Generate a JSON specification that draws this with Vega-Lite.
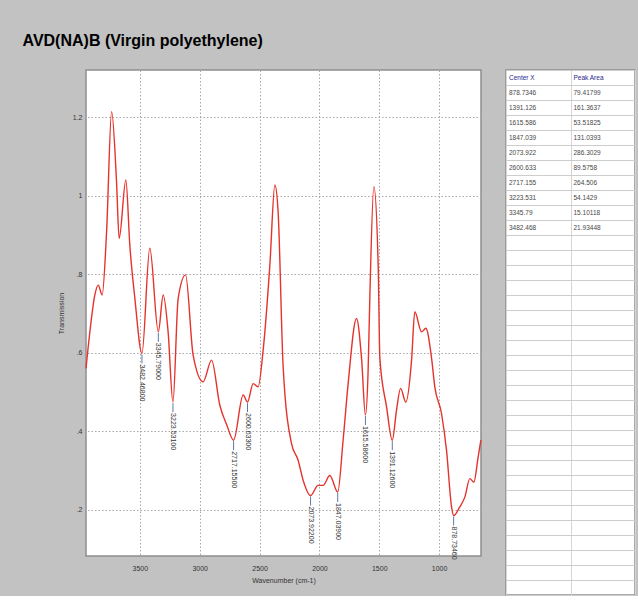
{
  "$schema": "https://vega.github.io/schema/vega-lite/v6.json",
  "background": "#c2c2c2",
  "padding": {"left": 22, "top": 33, "right": 2, "bottom": 0},
  "title": {
    "text": "AVD(NA)B (Virgin polyethylene)",
    "anchor": "start",
    "dx": -34,
    "offset": 20,
    "font": "Liberation Sans",
    "fontSize": 16,
    "fontWeight": "bold",
    "color": "#000000"
  },
  "config": {
    "font": "Liberation Sans",
    "view": {"stroke": "#8e8e8e", "strokeWidth": 1.5}
  },
  "spacing": 20,
  "datasets": {
    "spectrum": [
      {"wn": 3950, "T": 0.560}, {"wn": 3918, "T": 0.652}, {"wn": 3876, "T": 0.747},
      {"wn": 3848, "T": 0.772}, {"wn": 3815, "T": 0.747}, {"wn": 3778, "T": 0.908},
      {"wn": 3736, "T": 1.214}, {"wn": 3695, "T": 1.036}, {"wn": 3673, "T": 0.891},
      {"wn": 3617, "T": 1.040}, {"wn": 3584, "T": 0.874}, {"wn": 3542, "T": 0.739},
      {"wn": 3482.468, "T": 0.598}, {"wn": 3417, "T": 0.866}, {"wn": 3345.79, "T": 0.653},
      {"wn": 3305, "T": 0.747}, {"wn": 3264, "T": 0.653}, {"wn": 3223.531, "T": 0.474},
      {"wn": 3180, "T": 0.738}, {"wn": 3118, "T": 0.798}, {"wn": 3055, "T": 0.594},
      {"wn": 2971, "T": 0.526}, {"wn": 2901, "T": 0.581}, {"wn": 2832, "T": 0.466},
      {"wn": 2773, "T": 0.415}, {"wn": 2717.155, "T": 0.377}, {"wn": 2637, "T": 0.492},
      {"wn": 2600.633, "T": 0.474}, {"wn": 2554, "T": 0.521}, {"wn": 2512, "T": 0.513},
      {"wn": 2470, "T": 0.606}, {"wn": 2414, "T": 0.823}, {"wn": 2372, "T": 1.027},
      {"wn": 2345, "T": 0.959}, {"wn": 2303, "T": 0.564}, {"wn": 2233, "T": 0.368},
      {"wn": 2178, "T": 0.326}, {"wn": 2136, "T": 0.275}, {"wn": 2073.922, "T": 0.236},
      {"wn": 2011, "T": 0.262}, {"wn": 1969, "T": 0.262}, {"wn": 1913, "T": 0.287},
      {"wn": 1847.039, "T": 0.245}, {"wn": 1802, "T": 0.377}, {"wn": 1760, "T": 0.521},
      {"wn": 1690, "T": 0.687}, {"wn": 1648, "T": 0.586}, {"wn": 1615.586, "T": 0.441},
      {"wn": 1593, "T": 0.555}, {"wn": 1579, "T": 0.738}, {"wn": 1545, "T": 1.023},
      {"wn": 1509, "T": 0.823}, {"wn": 1495, "T": 0.586}, {"wn": 1439, "T": 0.462},
      {"wn": 1391.126, "T": 0.377}, {"wn": 1356, "T": 0.453}, {"wn": 1322, "T": 0.509},
      {"wn": 1278, "T": 0.474}, {"wn": 1230, "T": 0.581}, {"wn": 1203, "T": 0.704},
      {"wn": 1147, "T": 0.653}, {"wn": 1111, "T": 0.662}, {"wn": 1063, "T": 0.586},
      {"wn": 1036, "T": 0.513}, {"wn": 980, "T": 0.445}, {"wn": 938, "T": 0.351},
      {"wn": 896, "T": 0.207}, {"wn": 878.7346, "T": 0.185}, {"wn": 827, "T": 0.207},
      {"wn": 785, "T": 0.232}, {"wn": 743, "T": 0.279}, {"wn": 710, "T": 0.270},
      {"wn": 674, "T": 0.334}, {"wn": 651, "T": 0.377}
    ],
    "peaks": [
      {"wn": 3482.468, "T": 0.598}, {"wn": 3345.79, "T": 0.653}, {"wn": 3223.531, "T": 0.474},
      {"wn": 2717.155, "T": 0.377}, {"wn": 2600.633, "T": 0.474}, {"wn": 2073.922, "T": 0.236},
      {"wn": 1847.039, "T": 0.245}, {"wn": 1615.586, "T": 0.441}, {"wn": 1391.126, "T": 0.377},
      {"wn": 878.7346, "T": 0.185}
    ],
    "table": [
      {"row": 0, "Center X": "Center X", "Peak Area": "Peak Area"},
      {"row": 1, "Center X": "878.7346", "Peak Area": "79.41799"},
      {"row": 2, "Center X": "1391.126", "Peak Area": "161.3637"},
      {"row": 3, "Center X": "1615.586", "Peak Area": "53.51825"},
      {"row": 4, "Center X": "1847.039", "Peak Area": "131.0393"},
      {"row": 5, "Center X": "2073.922", "Peak Area": "286.3029"},
      {"row": 6, "Center X": "2600.633", "Peak Area": "89.5758"},
      {"row": 7, "Center X": "2717.155", "Peak Area": "264.506"},
      {"row": 8, "Center X": "3223.531", "Peak Area": "54.1429"},
      {"row": 9, "Center X": "3345.79", "Peak Area": "15.10118"},
      {"row": 10, "Center X": "3482.468", "Peak Area": "21.93448"}
    ]
  },
  "hconcat": [
    {
      "width": 395,
      "height": 486,
      "view": {"fill": "#ffffff", "stroke": "#8e8e8e", "strokeWidth": 1.5},
      "layer": [
        {
          "data": {"name": "spectrum"},
          "mark": {"type": "line", "color": "#e5332c", "strokeWidth": 1.4, "interpolate": "monotone"},
          "encoding": {
            "x": {
              "field": "wn",
              "type": "quantitative",
              "scale": {"domain": [650, 3950], "reverse": true, "nice": false, "zero": false},
              "axis": {
                "title": "Wavenumber (cm-1)",
                "values": [1000, 1500, 2000, 2500, 3000, 3500],
                "format": "d",
                "domain": false,
                "ticks": false,
                "labelPadding": 8,
                "labelFontSize": 7,
                "labelColor": "#333333",
                "titleFontSize": 7,
                "titleFontWeight": "normal",
                "titleColor": "#333333",
                "titlePadding": 5,
                "grid": true,
                "gridColor": "#a8a8a8",
                "gridDash": [1.5, 2],
                "gridWidth": 1
              }
            },
            "y": {
              "field": "T",
              "type": "quantitative",
              "scale": {"domain": [0.082, 1.32], "nice": false, "zero": false},
              "axis": {
                "title": "Transmission",
                "values": [0.2, 0.4, 0.6, 0.8, 1.0, 1.2],
                "labelExpr": "datum.value >= 1 ? format(datum.value, '.2~f') : replace(format(datum.value, '.1f'), '0.', '.')",
                "domain": false,
                "ticks": false,
                "labelPadding": 4,
                "labelFontSize": 7,
                "labelColor": "#333333",
                "titleFontSize": 7,
                "titleFontWeight": "normal",
                "titleColor": "#333333",
                "titlePadding": 8,
                "grid": true,
                "gridColor": "#a8a8a8",
                "gridDash": [1.5, 2],
                "gridWidth": 1
              }
            }
          }
        },
        {
          "data": {"name": "peaks"},
          "mark": {"type": "rule", "color": "#5a7aa6", "strokeWidth": 1, "yOffset": 1, "y2Offset": 10},
          "encoding": {
            "x": {"field": "wn", "type": "quantitative"},
            "y": {"field": "T", "type": "quantitative"},
            "y2": {"field": "T"}
          }
        },
        {
          "data": {"name": "peaks"},
          "mark": {"type": "text", "angle": 90, "align": "left", "baseline": "middle", "dx": 11, "fontSize": 7, "color": "#333333"},
          "encoding": {
            "x": {"field": "wn", "type": "quantitative"},
            "y": {"field": "T", "type": "quantitative"},
            "text": {"field": "wn", "type": "quantitative", "format": ".5f"}
          }
        }
      ]
    },
    {
      "width": 129,
      "height": 525,
      "view": {"fill": "#ffffff", "stroke": "#8e8e8e", "strokeWidth": 1.5},
      "data": {"name": "table"},
      "transform": [{"fold": ["Center X", "Peak Area"], "as": ["col", "cell"]}],
      "mark": {"type": "text", "align": "left", "baseline": "middle", "dx": 3, "fontSize": 6.5},
      "encoding": {
        "x": {
          "field": "col",
          "type": "nominal",
          "bandPosition": 0,
          "scale": {"domain": ["Center X", "Peak Area"], "paddingInner": 0, "paddingOuter": 0},
          "axis": {"title": null, "labels": false, "ticks": false, "domain": false, "grid": true, "tickBand": "extent", "gridColor": "#d6d6d6"}
        },
        "y": {
          "field": "row",
          "type": "ordinal",
          "scale": {
            "domain": [0, 1, 2, 3, 4, 5, 6, 7, 8, 9, 10, 11, 12, 13, 14, 15, 16, 17, 18, 19, 20, 21, 22, 23, 24, 25, 26, 27, 28, 29, 30, 31, 32, 33, 34],
            "paddingInner": 0,
            "paddingOuter": 0
          },
          "axis": {"title": null, "labels": false, "ticks": false, "domain": false, "grid": true, "tickBand": "extent", "gridColor": "#cdcdcd"}
        },
        "text": {"field": "cell"},
        "color": {
          "condition": {"test": "datum.row === 0", "value": "#28288c"},
          "value": "#474747"
        }
      }
    }
  ]
}
